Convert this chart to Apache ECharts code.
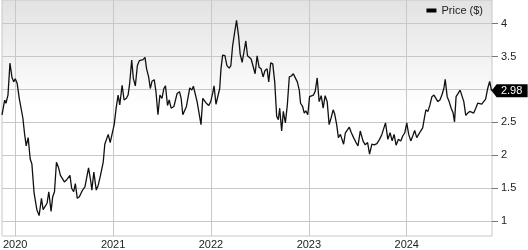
<!DOCTYPE html>
<html><head><meta charset="utf-8">
<script src="https://cdn.jsdelivr.net/npm/echarts@6/dist/echarts.min.js"></script>
<style>html,body{margin:0;padding:0;background:#fff}#c{width:528px;height:250px}</style>
</head><body><div id="c"></div>
<script>
// Dates as decimal years
const years = [
2019.865,2019.892,2019.905,2019.926,2019.946,2019.966,2019.984,2020.000,2020.020,2020.041,
2020.058,2020.078,2020.096,2020.112,2020.132,2020.153,2020.170,2020.193,2020.221,2020.244,
2020.268,2020.285,2020.305,2020.325,2020.343,2020.366,2020.383,2020.401,2020.421,2020.441,
2020.462,2020.482,2020.502,2020.526,2020.559,2020.577,2020.597,2020.614,2020.634,2020.655,
2020.671,2020.688,2020.712,2020.729,2020.749,2020.770,2020.783,2020.803,2020.828,2020.848,
2020.871,2020.899,2020.915,2020.932,2020.950,2020.970,2020.990,2021.011,2021.031,2021.051,
2021.068,2021.092,2021.112,2021.136,2021.153,2021.169,2021.190,2021.207,2021.227,2021.248,
2021.268,2021.288,2021.306,2021.326,2021.342,2021.363,2021.380,2021.397,2021.420,2021.438,
2021.458,2021.478,2021.499,2021.519,2021.535,2021.556,2021.573,2021.593,
2021.621,2021.634,2021.654,2021.678,2021.695,2021.712,2021.729,2021.749,2021.766,2021.783,
2021.804,2021.820,2021.837,2021.858,2021.878,2021.898,2021.916,2021.936,2021.952,2021.977,2021.997,
2022.017,2022.031,2022.051,2022.068,2022.089,2022.102,2022.119,2022.142,2022.163,2022.186,
2022.203,2022.221,2022.241,2022.261,2022.282,2022.298,2022.318,2022.336,2022.356,2022.373,
2022.389,2022.410,2022.430,2022.451,2022.471,2022.491,2022.512,2022.532,2022.552,2022.573,
2022.590,2022.610,2022.631,2022.651,2022.671,2022.688,2022.702,2022.722,2022.739,2022.760,
2022.780,2022.800,2022.821,2022.841,2022.861,2022.882,2022.902,2022.915,2022.936,2022.953,
2022.969,2022.989,
2023.007,2023.027,2023.047,2023.065,2023.085,2023.105,2023.126,2023.146,2023.166,2023.187,
2023.207,2023.227,2023.248,2023.264,2023.284,2023.302,2023.322,2023.342,2023.355,2023.373,
2023.393,2023.413,2023.434,2023.457,2023.482,2023.502,2023.525,2023.553,2023.576,2023.600,
2023.620,2023.644,2023.668,2023.695,2023.722,2023.746,2023.762,2023.783,2023.807,2023.830,
2023.851,2023.871,2023.891,2023.915,2023.939,2023.959,2023.980,
2024.000,2024.020,2024.041,2024.061,2024.081,2024.102,2024.122,2024.142,2024.163,2024.183,
2024.196,2024.217,2024.237,2024.257,2024.278,2024.298,2024.318,2024.339,2024.359,2024.379,
2024.393,2024.413,2024.433,2024.454,2024.474,2024.488,2024.504,2024.525,2024.545,2024.562,
2024.583,2024.603,2024.623,2024.644,2024.664,2024.684,2024.705,2024.725,2024.745,2024.766,
2024.786,2024.806,2024.827,2024.847,2024.867
];
const prices = [
2.616,2.840,2.791,2.915,3.399,3.190,3.115,3.164,3.090,2.866,
2.840,2.567,2.318,2.145,2.269,1.945,1.870,1.422,1.175,1.085,
1.348,1.175,1.149,1.273,1.448,1.149,1.373,1.448,1.896,1.821,
1.697,1.672,1.597,1.631,1.697,1.497,1.448,1.572,1.348,1.373,
1.373,1.473,1.522,1.497,1.810,1.622,1.473,1.746,1.473,1.548,
1.697,1.896,2.169,2.169,2.318,2.194,2.219,2.467,2.716,2.915,
2.766,3.064,2.840,2.866,2.915,3.090,3.448,3.164,3.055,3.363,
3.437,3.463,3.452,3.488,3.313,3.190,3.015,3.124,3.149,2.966,
2.616,2.915,2.866,3.015,3.055,2.757,2.840,2.716,
2.742,2.766,2.940,2.966,2.866,2.616,2.593,2.742,2.742,3.025,
2.990,3.049,3.040,2.816,2.642,2.467,2.866,2.840,2.791,2.757,2.816,
2.940,3.055,2.776,2.757,3.015,3.313,3.522,3.512,3.363,3.324,
3.363,3.661,3.861,4.049,3.810,3.537,3.413,3.563,3.736,3.512,
3.503,3.463,3.488,3.239,3.512,3.339,3.313,3.190,3.288,3.313,
3.115,3.403,3.388,3.115,2.593,2.542,2.716,2.369,2.667,2.493,
2.766,3.190,3.204,3.239,3.213,3.115,2.990,2.791,2.742,2.642,
2.676,2.616,
2.891,2.891,2.915,2.975,3.175,2.816,2.906,2.716,2.906,2.816,
2.467,2.567,2.691,2.627,2.467,2.269,2.318,2.294,2.169,2.343,
2.369,2.428,2.343,2.269,2.194,2.145,2.369,2.219,2.160,2.194,
2.019,2.169,2.160,2.179,2.243,2.318,2.343,2.493,2.243,2.343,
2.219,2.318,2.154,2.243,2.219,2.294,2.343,
2.493,2.318,2.219,2.294,2.378,2.269,2.318,2.369,2.418,2.593,
2.691,2.667,2.766,2.891,2.915,2.940,2.816,2.840,2.915,3.015,
3.154,2.891,2.816,2.716,2.642,2.507,2.891,2.940,2.990,3.015,
2.816,2.607,2.642,2.667,2.657,2.642,2.716,2.791,2.766,2.776,
2.791,2.855,3.015,3.124,2.98
];
const yearTicks = [2020, 2021, 2022, 2023, 2024];
const priceTicks = [1, 1.5, 2, 2.5, 3, 3.5, 4];
const seriesName = 'Price ($)';

const chart = echarts.init(document.getElementById('c'), null, {renderer: 'canvas'});
const data = years.map((y, i) => [y, prices[i]]);
const font = '"Liberation Sans", Arial, Helvetica, sans-serif';
chart.setOption({
  animation: false,
  backgroundColor: '#ffffff',
  textStyle: {fontFamily: font},
  grid: {
    left: 0, right: 36, top: 0, bottom: 10, show: true,
    borderColor: '#c8c8c8', borderWidth: 1,
    backgroundColor: {type: 'linear', x: 0, y: 0, x2: 0, y2: 1,
      colorStops: [{offset: 0, color: '#e2e2e2'}, {offset: 0.45, color: '#ffffff'}, {offset: 1, color: '#ffffff'}]}
  },
  legend: {
    show: true, right: 45, top: 5, padding: 0, icon: 'rect',
    itemWidth: 10, itemHeight: 4, itemGap: 5,
    textStyle: {fontSize: 11, color: '#222', fontFamily: font},
    data: [{name: seriesName, itemStyle: {color: '#000'}}]
  },
  xAxis: {
    type: 'value', min: 2019.865, max: 2024.871,
    axisLine: {show: false},
    axisTick: {show: false, customValues: yearTicks},
    axisLabel: {customValues: yearTicks, formatter: v => String(Math.round(v)), margin: 3, fontSize: 11, color: '#222', fontFamily: font},
    splitLine: {show: true, lineStyle: {color: '#c8c8c8', width: 1}}
  },
  yAxis: {
    type: 'value', position: 'right', min: 0.776, max: 4.358,
    axisLine: {show: false},
    axisTick: {show: true, length: 6, customValues: priceTicks, lineStyle: {color: '#777'}},
    axisLabel: {customValues: priceTicks, margin: 9, fontSize: 11, color: '#222', fontFamily: font},
    splitLine: {show: true, lineStyle: {color: '#c8c8c8', width: 1}}
  },
  series: [{
    name: seriesName, type: 'line', data: data,
    showSymbol: false, symbol: 'none',
    lineStyle: {color: '#111', width: 1.3},
    itemStyle: {color: '#000'},
    markPoint: {
      silent: true,
      symbol: 'path://M0,6.5L5,0L36,0L36,13L5,13Z',
      symbolSize: [36, 13], symbolOffset: ['50%', 0], symbolKeepAspect: false,
      itemStyle: {color: '#000'},
      label: {show: true, position: 'inside', color: '#fff', fontSize: 11, offset: [2, 0], fontFamily: font,
        formatter: p => p.data.coord[1].toFixed(2)},
      data: [{coord: [years[years.length - 1], prices[prices.length - 1]]}]
    }
  }]
});
</script>
</body></html>
